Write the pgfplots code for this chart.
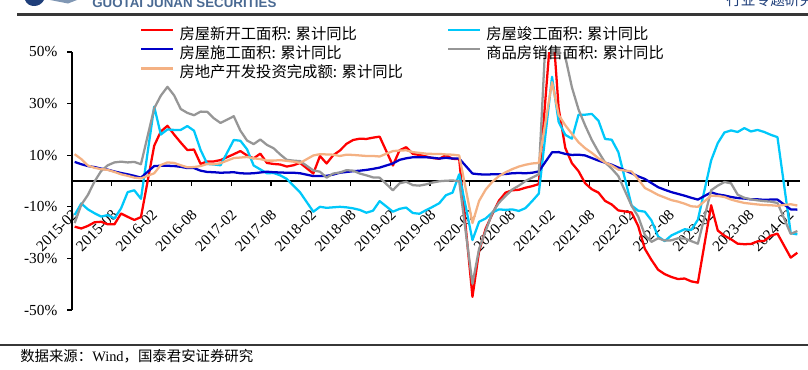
\documentclass[border=0pt]{standalone}
\usepackage{pgfplots}
\pgfplotsset{compat=1.18}
\usepackage{pgfplotstable}
\usepackage{fontspec}
\setmainfont{Liberation Serif}
\newfontfamily\cjk{Noto Sans CJK SC}
\newfontfamily\hdrfont{Liberation Sans}
\definecolor{cRed}{RGB}{255,0,0}
\definecolor{cCyan}{RGB}{0,200,250}
\definecolor{cBlue}{RGB}{0,0,200}
\definecolor{cGray}{RGB}{150,150,150}
\definecolor{cPeach}{RGB}{244,177,131}
\definecolor{hdrblue}{RGB}{74,106,147}
\definecolor{hdrnavy}{RGB}{31,63,122}
\definecolor{rulegray}{RGB}{55,55,55}

\pgfplotstableread{
i red cyan blue gray peach
0 -17.7 -13.2 7.4 -16.3 10.4
1 -18.4 -8.7 6.5 -9.2 8.5
2 -17.4 -11.0 5.8 -5.4 6.0
3 -16.0 -12.5 5.4 -0.2 5.1
4 -15.8 -13.8 4.8 3.9 4.6
5 -16.8 -13.2 4.4 6.1 4.3
6 -16.8 -14.5 3.7 7.2 3.5
7 -12.6 -10.6 3.1 7.5 2.6
8 -13.9 -4.3 2.6 7.2 2.0
9 -15.1 -3.6 2.0 7.4 1.3
10 -14.0 -6.9 1.3 6.5 1.0
12 13.7 28.8 5.8 28.2 3.0
13 19.2 18.0 5.9 33.1 6.2
14 21.4 20.0 5.9 36.5 7.2
15 18.0 19.8 5.8 33.2 7.0
16 14.9 19.8 5.5 27.9 6.1
17 12.0 21.3 5.0 26.4 5.3
18 12.2 19.5 5.0 25.5 5.4
19 6.6 12.0 4.0 26.9 5.8
20 7.6 6.6 3.5 26.8 6.6
21 7.6 6.4 3.4 24.3 6.5
22 8.1 6.1 3.2 22.5 6.9
24 10.4 15.9 3.4 25.1 8.9
25 11.6 15.6 3.0 19.5 9.1
26 9.9 12.3 2.9 15.7 9.3
27 8.8 6.0 3.0 14.3 8.8
28 10.6 4.5 3.3 16.1 8.5
29 7.0 3.0 3.6 14.0 7.9
30 6.6 3.1 3.4 12.7 7.9
31 6.4 2.2 3.3 10.3 8.1
32 5.6 0.8 3.2 8.2 7.8
33 6.1 -1.8 3.2 7.9 7.5
34 7.0 -4.4 3.0 7.7 7.0
36 2.9 -11.9 1.9 4.1 9.9
37 9.7 -10.0 1.9 3.6 10.4
38 6.8 -10.4 2.0 1.3 10.3
39 10.0 -10.2 2.5 2.9 10.2
40 11.8 -10.0 3.2 3.3 9.7
41 14.4 -10.2 3.5 4.2 10.2
42 15.9 -10.6 3.8 4.0 10.1
43 16.4 -11.2 4.0 2.9 9.9
44 16.3 -12.3 4.3 2.2 9.7
45 16.8 -11.5 4.7 1.4 9.7
46 17.2 -7.8 5.2 1.3 9.5
48 6.0 -11.9 6.8 -3.6 11.6
49 11.9 -10.8 8.2 -0.9 11.8
50 13.1 -10.3 8.8 -0.3 11.9
51 10.5 -12.4 9.2 -1.6 11.2
52 10.1 -12.7 9.2 -1.8 10.9
53 9.5 -11.3 9.2 -1.3 10.6
54 8.9 -10.0 9.0 -0.6 10.5
55 8.6 -8.6 8.7 -0.1 10.5
56 10.0 -5.5 9.0 0.1 10.3
57 8.6 -4.5 8.7 0.2 10.2
58 8.5 2.6 8.7 -0.1 9.9
60 -44.9 -22.9 2.9 -39.9 -16.3
61 -27.2 -15.8 2.6 -26.3 -7.7
62 -18.4 -14.5 2.5 -19.3 -3.3
63 -12.8 -12.2 2.6 -12.3 -0.3
64 -7.6 -11.0 2.6 -8.4 1.9
65 -4.5 -11.2 2.7 -5.8 3.4
66 -3.6 -11.0 3.0 -3.3 4.6
67 -3.4 -11.6 3.1 -1.8 5.6
68 -2.6 -10.5 3.0 0.0 6.3
69 -2.0 -7.8 3.2 1.3 6.8
70 -1.2 -4.9 3.7 2.6 7.0
72 64.3 40.4 11.1 104.9 38.3
73 28.2 22.9 11.2 63.8 25.6
74 12.8 17.9 10.5 48.1 21.6
75 6.9 16.4 10.1 36.3 18.3
76 3.8 25.7 10.2 27.7 15.0
77 -0.9 25.7 9.9 21.5 12.7
78 -3.2 26.0 8.9 15.9 10.9
79 -4.5 23.4 7.9 11.3 8.8
80 -7.7 16.3 7.1 7.2 7.2
81 -9.1 16.0 6.3 4.8 6.0
82 -11.4 11.2 5.2 1.9 4.4
84 -12.2 -9.5 3.0 -9.6 3.7
85 -17.5 -11.5 1.8 -13.8 0.7
86 -26.3 -11.9 0.8 -20.9 -2.7
87 -30.6 -15.3 -0.8 -23.6 -4.0
88 -34.4 -21.5 -2.4 -22.2 -5.4
89 -36.1 -23.3 -3.4 -23.1 -6.4
90 -37.2 -21.1 -4.3 -23.0 -7.4
91 -38.0 -19.9 -5.0 -22.2 -8.0
92 -37.8 -18.7 -5.7 -22.3 -8.8
93 -38.9 -19.0 -6.5 -23.3 -9.8
94 -39.4 -15.0 -7.2 -24.3 -10.0
96 -9.4 8.0 -4.4 -3.6 -5.7
97 -19.2 14.7 -5.2 -1.8 -5.8
98 -21.2 18.8 -5.6 -0.4 -6.2
99 -22.6 19.6 -6.2 -0.9 -7.2
100 -24.3 19.0 -6.6 -5.3 -7.9
101 -24.5 20.5 -6.8 -6.5 -8.5
102 -24.4 19.2 -7.1 -7.1 -8.8
103 -23.4 19.8 -7.1 -7.5 -9.1
104 -23.2 19.0 -7.3 -7.8 -9.3
105 -21.2 17.9 -7.2 -8.0 -9.4
106 -20.4 17.0 -7.2 -8.5 -9.6
108 -29.7 -20.2 -11.0 -20.5 -9.0
109 -27.8 -20.7 -11.1 -19.4 -9.5
}\data

\begin{document}
\begin{tikzpicture}[x=0.75pt,y=0.75pt]
\useasboundingbox (0,0) rectangle (808,369);
% header
\fill[hdrnavy] (25,369) .. controls (28,361) and (40,361) .. (44,369) -- cycle;
\fill[hdrblue!70] (50,369) -- (77,369) -- (68,365.5) -- cycle;
\node[anchor=base west, inner sep=0pt, font=\hdrfont\bfseries\fontsize{10}{10}\selectfont, text=hdrblue] at (92,361.8) {GUOTAI JUNAN SECURITIES};
\node[anchor=base west, inner sep=0pt, font=\cjk\fontsize{11}{12}\selectfont, text=hdrnavy] at (726,363.5) {行业专题研究};
\draw[rulegray, line width=2pt] (17,354.5) -- (808,354.5);
\begin{axis}[
  at={(54pt,44.25pt)}, anchor=south west,
  scale only axis, width=546pt, height=193.5pt,
  xmin=-0.4, xmax=109.4, ymin=-50, ymax=50,
  axis x line=middle, axis y line=left,
  axis line style={-, black, line width=1.1pt},
  hide obscured x ticks=false, hide obscured y ticks=false,
  xtick={-0.4,5.6,11.6,17.6,23.6,29.6,35.6,41.6,47.6,53.6,59.6,65.6,71.6,77.6,83.6,89.6,95.6,101.6,107.6},
  xticklabels={2015-02,2015-08,2016-02,2016-08,2017-02,2017-08,2018-02,2018-08,2019-02,2019-08,2020-02,2020-08,2021-02,2021-08,2022-02,2022-08,2023-02,2023-08,2024-02},
  ytick={-50,-30,-10,10,30,50},
  yticklabels={-50\%,-30\%,-10\%,10\%,30\%,50\%},
  tick align=outside,
  major tick length=3.75pt,
  tick style={black, line width=0.9pt},
  x tick label style={xshift=3pt, yshift=-19pt, rotate=45, anchor=east, font=\fontsize{11.5}{12}\selectfont, inner sep=1pt},
  y tick label style={xshift=-3.75pt, font=\fontsize{11.5}{12}\selectfont},
  legend columns=2,
  legend cell align=left,
  legend style={at={(0.0934,1.097)}, anchor=north west, draw=none, fill=none, inner sep=0pt,
    font=\cjk\fontsize{11.5}{12}\selectfont, row sep=3.5pt,
    nodes={inner sep=0pt, text height=9pt, text depth=2pt},
    /tikz/every odd column/.style={column sep=3.75pt},
    /tikz/every even column/.style={column sep=33pt}},
  legend image code/.code={\draw[#1] (0pt,3.5pt) -- (24pt,3.5pt);},
  every axis plot/.append style={line width=1.7pt, line join=round},
]
\addplot[cRed] table[x=i, y=red] {\data};
\addlegendentry{房屋新开工面积{:}\hspace{0.3em}累计同比}
\addplot[cCyan] table[x=i, y=cyan] {\data};
\addlegendentry{房屋竣工面积{:}\hspace{0.3em}累计同比}
\addplot[cBlue] table[x=i, y=blue] {\data};
\addlegendentry{房屋施工面积{:}\hspace{0.3em}累计同比}
\addplot[cGray] table[x=i, y=gray] {\data};
\addlegendentry{商品房销售面积{:}\hspace{0.3em}累计同比}
\addplot[cPeach] table[x=i, y=peach] {\data};
\addlegendentry{房地产开发投资完成额{:}\hspace{0.3em}累计同比}
\end{axis}
% footer
\draw[rulegray, line width=1.5pt] (0,24) -- (808,24);
\node[anchor=west, inner sep=0pt, font=\fontsize{10.8}{12}\selectfont] at (20,12.5) {{\cjk 数据来源：}Wind{\cjk ，国泰君安证券研究}};
\end{tikzpicture}
\end{document}
